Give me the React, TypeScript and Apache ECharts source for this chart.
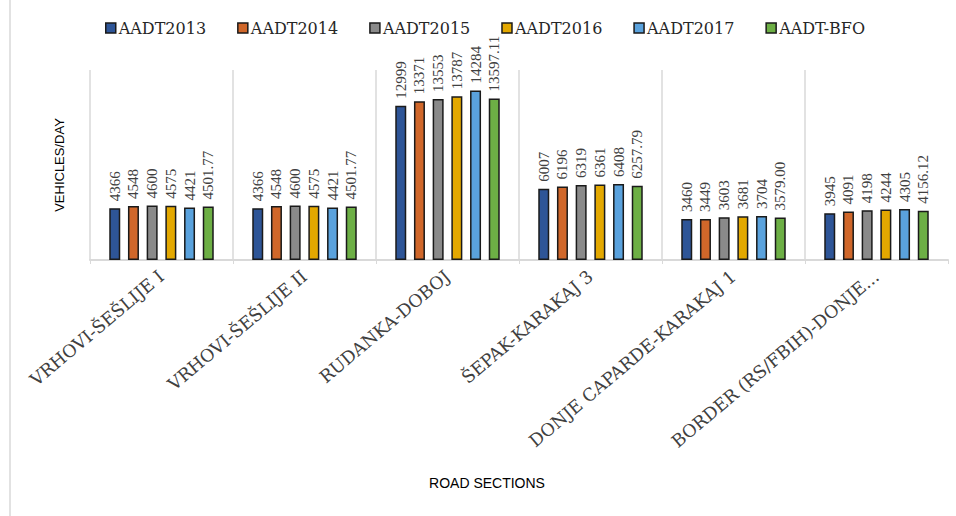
import React, { useEffect, useRef } from "react";
import * as echarts from "echarts";

const categories = [
  "VRHOVI-ŠEŠLIJE I",
  "VRHOVI-ŠEŠLIJE II",
  "RUDANKA-DOBOJ",
  "ŠEPAK-KARAKAJ 3",
  "DONJE CAPARDE-KARAKAJ 1",
  "BORDER (RS/FBIH)-DONJE...",
];
const seriesNames = ["AADT2013", "AADT2014", "AADT2015", "AADT2016", "AADT2017", "AADT-BFO"];
const aadt2013 = [4366, 4366, 12999, 6007, 3460, 3945];
const aadt2014 = [4548, 4548, 13371, 6196, 3449, 4091];
const aadt2015 = [4600, 4600, 13553, 6319, 3603, 4198];
const aadt2016 = [4575, 4575, 13787, 6361, 3681, 4244];
const aadt2017 = [4421, 4421, 14284, 6408, 3704, 4305];
const aadtBfo = [4501.77, 4501.77, 13597.11, 6257.79, 3579.0, 4156.12];
const seriesData = [aadt2013, aadt2014, aadt2015, aadt2016, aadt2017, aadtBfo];
const colors = ["#2E5597", "#D0672A", "#8A8A8A", "#E3A800", "#5AA2DD", "#6DAF45"];

export default function App() {
  const ref = useRef<HTMLDivElement>(null);
  useEffect(() => {
    if (!ref.current) return;
    const chart = echarts.init(ref.current, undefined, { renderer: "svg" });
    const serif = "'Liberation Serif', 'Times New Roman', serif";
    const wideSerif = "'DejaVu Serif', serif";
    chart.setOption({
      animation: false,
      backgroundColor: "#ffffff",
      legend: {
        top: 15,
        left: 100,
        itemWidth: 10,
        itemHeight: 10,
        itemGap: 31,
        icon: "rect",
        data: seriesNames.map((n, i) => ({
          name: n,
          itemStyle: { color: colors[i], borderColor: "#1a1a1a", borderWidth: 1.5 },
        })),
        textStyle: { fontFamily: wideSerif, fontSize: 16, color: "#262626", padding: [0, 0, 0, -2] },
      },
      grid: { left: 90, right: 8, top: 70, bottom: 256, containLabel: false },
      xAxis: {
        type: "category",
        data: categories,
        axisLine: { show: true, lineStyle: { color: "#d9d9d9", width: 2 } },
        axisTick: { show: true, length: 4, lineStyle: { color: "#d9d9d9" } },
        splitLine: {
          show: true,
          showMinLine: true,
          showMaxLine: false,
          lineStyle: { color: "#d9d9d9", width: 1.5 },
        },
        axisLabel: {
          interval: 0,
          rotate: 40,
          margin: 14,
          fontFamily: wideSerif,
          fontSize: 17.5,
          color: "#404040",
        },
      },
      yAxis: {
        type: "value",
        min: 0,
        max: 16000,
        name: "VEHICLES/DAY",
        nameLocation: "middle",
        nameGap: 24,
        nameTextStyle: {
          fontFamily: "'Liberation Sans', Arial, sans-serif",
          fontSize: 13,
          color: "#000000",
        },
        axisLine: { show: false },
        axisTick: { show: false },
        axisLabel: { show: false },
        splitLine: { show: false },
      },
      series: seriesNames.map((n, i) => ({
        name: n,
        type: "bar",
        data: seriesData[i],
        barWidth: 11,
        barGap: "70%",
        itemStyle: { color: colors[i], borderColor: "#1a1a1a", borderWidth: 1.5 },
        label: {
          show: true,
          position: "top",
          rotate: 90,
          align: "left",
          verticalAlign: "middle",
          distance: 7,
          fontFamily: serif,
          fontSize: 15,
          color: "#404040",
          formatter: (p: any) => (i === 5 ? Number(p.value).toFixed(2) : String(p.value)),
        },
      })),
      graphic: [
        {
          type: "line",
          shape: { x1: 10, y1: 0, x2: 10, y2: 516 },
          style: { stroke: "#d9d9d9", lineWidth: 1.5 },
        },
        {
          type: "text",
          x: 487,
          y: 483,
          style: {
            text: "ROAD SECTIONS",
            fontFamily: "'Liberation Sans', Arial, sans-serif",
            fontSize: 14,
            fill: "#000000",
            align: "center",
            verticalAlign: "middle",
          },
        },
      ],
    });
    return () => chart.dispose();
  }, []);
  return (
    <div
      ref={ref}
      style={{ position: "fixed", left: 0, top: 0, width: 956, height: 516 }}
    />
  );
}
